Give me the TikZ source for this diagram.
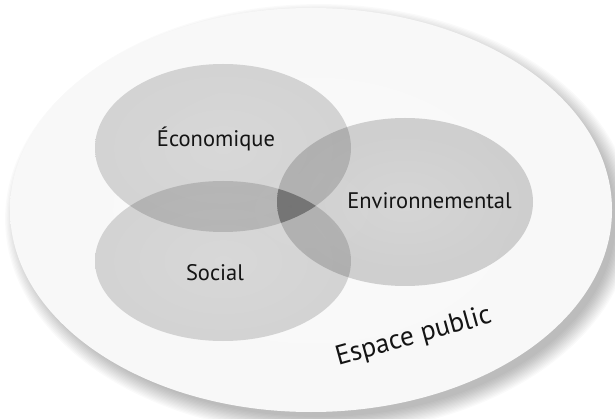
\documentclass[tikz,border=0pt]{standalone}
\usepackage{fontspec}
\setmainfont{PT Sans}
\pgfdeclareradialshading{bigsh}{\pgfpoint{0bp}{0bp}}{color(0bp)=(black!2); color(30bp)=(black!3); color(44bp)=(black!5); color(50bp)=(black!8)}
\pgfdeclareradialshading{ecosh}{\pgfpoint{0bp}{0bp}}{color(0bp)=(black!13); color(25bp)=(black!15); color(40bp)=(black!20); color(50bp)=(black!27)}
\pgfdeclareradialshading{socsh}{\pgfpoint{0bp}{0bp}}{color(0bp)=(black!13); color(25bp)=(black!15); color(40bp)=(black!21); color(50bp)=(black!29)}
\pgfdeclareradialshading{envsh}{\pgfpoint{0bp}{0bp}}{color(0bp)=(black!14); color(25bp)=(black!17); color(40bp)=(black!25); color(50bp)=(black!36)}
\tikzset{
  lbl/.style={text=black!92, font=\fontsize{22.5}{26}\selectfont, anchor=base, inner sep=0pt},
  biglbl/.style={text=black!92, font=\fontsize{27.5}{32}\selectfont, anchor=base, inner sep=0pt},
}
\begin{document}
\begin{tikzpicture}[x=1pt,y=-1pt]
\fill[white] (0,0) rectangle (615,419);
\useasboundingbox (0,0) rectangle (615,419);
% soft shadow of the big ellipse, towards the bottom right
\foreach \k in {0,...,13}{
  \fill[black, opacity=0.02] (319,219) ellipse ({297+\k*1.3} and {198+\k*1.3});
}
% big ellipse (public space)
\shade[shading=bigsh] (311,210) ellipse (301 and 202);
% three ellipses
\shade[shading=ecosh, blend mode=multiply] (223,148) ellipse (128 and 84);
\shade[shading=socsh, blend mode=multiply] (223,261) ellipse (128 and 80);
\shade[shading=envsh, blend mode=multiply] (405,202) ellipse (128 and 84);
% darker triple intersection
\begin{scope}
  \clip (223,148) ellipse (128 and 84);
  \clip (223,261) ellipse (128 and 80);
  \fill[black!22, blend mode=multiply] (405,202) ellipse (128 and 84);
\end{scope}
% labels
\node[lbl] (eco) at (216,147) {Économique};
\node[lbl] (soc) at (215,280) {Social};
\node[lbl] (env) at (429.5,208.5) {Environnemental};
\node[biglbl, rotate=15.5] (pub) at (415.5,344) {Espace public};
\end{tikzpicture}
\end{document}
